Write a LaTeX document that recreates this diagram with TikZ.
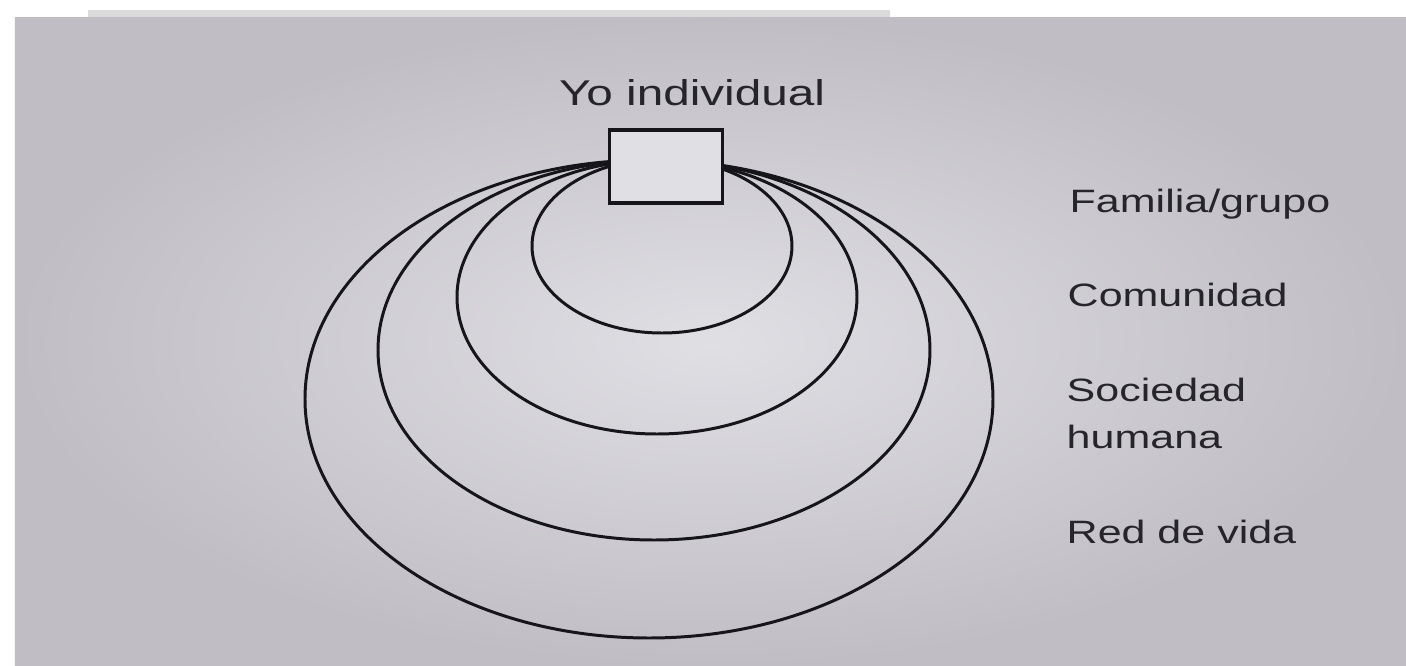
\documentclass[tikz,border=0pt]{standalone}
\usepackage{fontspec}
\setmainfont{Liberation Sans}
\usetikzlibrary{positioning}
\definecolor{paperin}{RGB}{224,223,228}
\definecolor{paperout}{RGB}{192,190,196}
\definecolor{ink}{RGB}{22,22,26}
\definecolor{txt}{RGB}{38,38,42}
\newcommand{\wide}[1]{\scalebox{1.33}[1]{#1}}
\tikzset{
  ring/.style={ink, line width=0.85pt},
  ybox/.style={draw=ink, line width=1.1pt, fill=paperin, minimum width=11.3mm, minimum height=7.3mm, inner sep=0pt},
  lbl/.style={font=\fontsize{9.2}{13.3}\selectfont, text=txt, anchor=base west, inner sep=0pt, align=left},
}

\begin{document}
\begin{tikzpicture}[x=0.1mm, y=-0.1mm]
\useasboundingbox (0,0) rectangle (1406,666);
% paper
\fill[white] (0,0) rectangle (1406,666);
\fill[black!14] (88,10) rectangle (890,17);
\shade[inner color=paperin, outer color=paperout] (15,17) rectangle (1406,666);
% nested rings
\foreach \cx/\cy/\rx/\ry in {662/246/130/87, 657/297/200/137, 654/350/276/190, 649/399/344/239}
  \draw[ring] (\cx,\cy) ellipse [x radius=\rx, y radius=\ry];
\node[ybox] (yo) at (666,166.5) {};
\node[lbl, font=\fontsize{10.2}{12}\selectfont, anchor=base] (yolbl) at (692,105) {\wide{Yo individual}};
% labels (base = last line)
\node[lbl] (fam) at (1069,212) {\wide{Familia/grupo}};
\node[lbl] (com) at (1067,306) {\wide{Comunidad}};
\node[lbl] (soc) at (1066,448) {\wide{Sociedad}\\\wide{humana}};
\node[lbl] (red) at (1066,543) {\wide{Red de vida}};
\end{tikzpicture}
\end{document}
